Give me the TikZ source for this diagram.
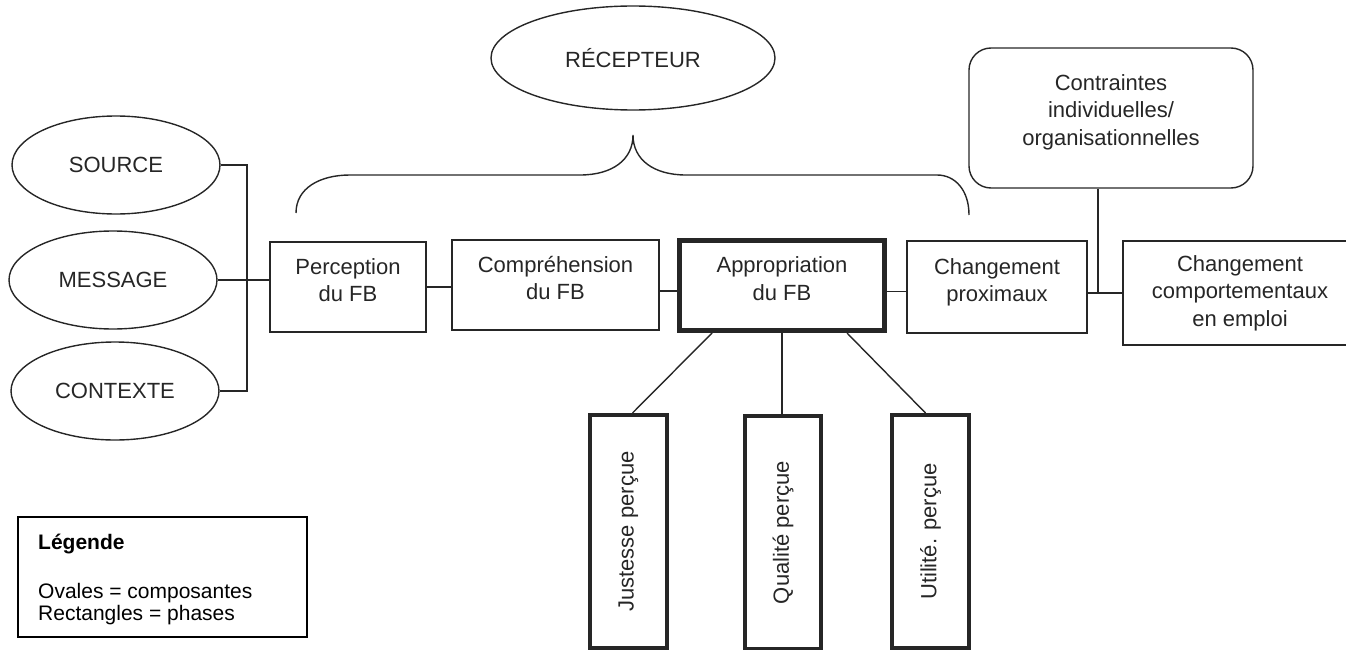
\documentclass[tikz,border=0pt]{standalone}
\usepackage{fontspec}
\setmainfont{Liberation Sans}
\usetikzlibrary{shapes.geometric}
\begin{document}
\begin{tikzpicture}[x=1pt,y=-1pt,
  every node/.style={font=\fontsize{22}{27.5}\selectfont, text=black!85},
  link/.style={draw=black!85, line width=1.4pt},
  oval/.style={ellipse, draw=black!85, line width=1.4pt, inner sep=0pt,
    minimum width=208pt, minimum height=98pt},
  phase/.style={rectangle, draw=black!85, line width=1.4pt, align=center,
    inner sep=0pt, text depth=14pt},
  keyphase/.style={phase, line width=5pt},
  factor/.style={rectangle, draw=black!85, line width=4pt, inner sep=0pt,
    minimum height=233pt},
  legendtext/.style={font=\fontsize{21}{23}\selectfont, text=black, anchor=base west, inner sep=0pt},
]
\useasboundingbox (0,0) rectangle (1346,650);

% components (ovals)
\node[oval] (src) at (116,165) {SOURCE};
\node[oval] (msg) at (113,280) {MESSAGE};
\node[oval] (ctx) at (115,391) {CONTEXTE};
\node[oval, minimum width=284pt, minimum height=104pt] (rec) at (633,58) {RÉCEPTEUR};

% phases (rectangles)
\node[phase, minimum width=156pt, minimum height=90pt] (perc) at (348,287) {Perception\\du FB};
\node[phase, minimum width=207pt, minimum height=90pt] (comp) at (555.5,285) {Compréhension\\du FB};
\node[keyphase, minimum width=205pt, minimum height=90pt] (appr) at (782,285.5) {Appropriation\\du FB};
\node[phase, minimum width=180pt, minimum height=92pt] (prox) at (997,287) {Changement\\proximaux};
\node[phase, text depth=, minimum width=234pt, minimum height=104pt] (beh) at (1240,293)
  {Changement\\comportementaux\\en emploi};
\node[phase, text depth=16pt, rounded corners=22pt, minimum width=284pt, minimum height=140pt]
  (constr) at (1111,118) {Contraintes\\individuelles/\\organisationnelles};

% perceived qualities of the feedback
\node[factor, minimum width=77pt] (just) at (628.5,531.5) {\rotatebox{90}{Justesse perçue}};
\node[factor, minimum width=76pt] (qual) at (783,532.5) {\rotatebox{90}{Qualité perçue}};
\node[factor, minimum width=77pt] (util) at (930.5,531.5) {\rotatebox{90}{Utilité. perçue}};

% components feeding the perception phase
\coordinate (bar) at (247,0);
\draw[link] (src.east) -- (src.east -| bar) -- (ctx.east -| bar) -- (ctx.east);
\draw[link] (msg.east) -- (msg.east -| perc.west);

% phase chain
\draw[link] (perc.east) -- (perc.east -| comp.west);
\draw[link] ([yshift=-6pt]comp.east) -- ([yshift=-6pt]comp.east -| appr.west);
\draw[link] ([yshift=-6pt]appr.east) -- ([yshift=-6pt]appr.east -| prox.west);
\coordinate (jn) at (1098,293);
\draw[link] (prox.east |- jn) -- (jn) -- (jn -| beh.west);
\draw[link] (constr.south -| jn) -- (jn);

% appropriation and its perceived qualities
\draw[link] ([xshift=-70pt]appr.south) -- ([xshift=4pt]just.north);
\draw[link] (appr.south) -- (appr.south |- qual.north);
\draw[link] ([xshift=65pt]appr.south) -- ([xshift=-5pt]util.north);

% brace grouping the receiver phases
\draw[link] (296,213) .. controls (296,188) and (320,175) .. (350,175) -- (580,175)
  .. controls (612,175) and (633,160) .. (633,135)
  .. controls (633,160) and (654,175) .. (686,175) -- (937,175)
  .. controls (955,175) and (969,190) .. (969,215);

% legend
\node[draw=black, line width=1.8pt, minimum width=289pt, minimum height=120pt, inner sep=0pt]
  (legend) at (162.5,577) {};
\node[legendtext, font=\fontsize{21}{23}\selectfont\bfseries] (legtitle) at (38,549) {Légende};
\node[legendtext] (lega) at (38,598) {Ovales = composantes};
\node[legendtext] (legb) at (38,620) {Rectangles = phases};
\end{tikzpicture}
\end{document}
